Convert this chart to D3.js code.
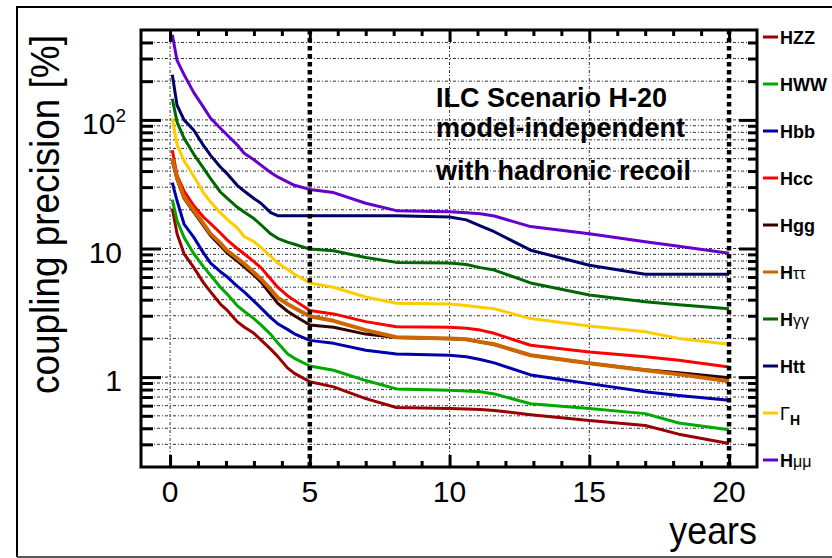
<!DOCTYPE html>
<html>
<head>
<meta charset="utf-8">
<script src="https://cdn.jsdelivr.net/npm/d3@7"></script>
<style>
  body { margin: 0; background: #fff; }
  svg { display: block; }
  text { font-family: "Liberation Sans", Arial, sans-serif; }
</style>
</head>
<body>
<div id="chart"></div>
<script>
// time in years where the precisions were read
const years = [0.08, 0.25, 0.5, 0.85, 1.2, 1.45, 1.8, 2.05, 2.4, 2.65, 3.0, 3.25, 3.6, 3.85, 4.2, 4.45,
  5.0, 5.85, 7.0, 8.1, 10.0, 10.6, 11.1, 11.6, 12.9, 15.0, 17.0, 18.2, 20.0];

// coupling precision in %
const hzz = [20.5, 13, 9.1, 7.1, 5.4, 4.6, 3.7, 3.3, 2.7, 2.45, 2.19, 1.95, 1.65, 1.45, 1.18, 1.07,
  0.92, 0.84, 0.68, 0.58, 0.57, 0.565, 0.56, 0.55, 0.51, 0.46, 0.42, 0.36, 0.305];
const hww = [24, 16.5, 12.2, 9.1, 7.2, 6.2, 5.0, 4.4, 3.6, 3.25, 2.85, 2.55, 2.15, 1.85, 1.52, 1.4,
  1.22, 1.13, 0.94, 0.81, 0.79, 0.78, 0.77, 0.74, 0.62, 0.57, 0.52, 0.44, 0.39];
const hbb = [32.5, 23.5, 15.5, 12.2, 9.2, 7.7, 6.6, 6.0, 5.1, 4.6, 3.9, 3.45, 2.9, 2.6, 2.35, 2.17,
  1.93, 1.83, 1.62, 1.51, 1.48, 1.44, 1.37, 1.29, 1.04, 0.89, 0.77, 0.72, 0.66];
const hcc = [58, 37, 28, 21.5, 17.5, 15.6, 13.2, 11.6, 10, 9.1, 7.9, 7.1, 5.8, 5.0, 4.3, 3.95,
  3.3, 3.1, 2.7, 2.46, 2.44, 2.4, 2.32, 2.19, 1.77, 1.57, 1.44, 1.35, 1.2];
const hgg = [48, 34.5, 24.5, 19.2, 15, 12.6, 10.5, 9.2, 8.0, 7.2, 6.2, 5.5, 4.4, 3.75, 3.25, 3.0,
  2.54, 2.44, 2.16, 2.03, 1.99, 1.96, 1.87, 1.79, 1.48, 1.28, 1.14, 1.08, 0.99];
const htautau = [50, 35.5, 25, 19.8, 15.5, 13, 11, 9.6, 8.4, 7.6, 6.5, 5.8, 4.8, 4.15, 3.7, 3.45,
  2.97, 2.74, 2.32, 2.04, 2.0, 1.97, 1.88, 1.8, 1.48, 1.28, 1.13, 1.05, 0.93];
const hgamgam = [146, 96, 72, 54, 42, 35, 27.5, 24.5, 21, 19.2, 17.1, 15.3, 13, 12, 11.2, 10.8,
  9.9, 9.6, 8.5, 7.8, 7.7, 7.5, 7.1, 6.8, 5.4, 4.35, 3.85, 3.65, 3.4];
const htt = [224, 130, 100, 83, 63, 53, 43, 38, 31, 28, 24.5, 22.5, 19, 18, 18, 18,
  18, 18, 18, 18, 17.6, 16.7, 15, 13.5, 9.7, 7.4, 6.3, 6.3, 6.3];
const gammaH = [103, 64, 48, 36.5, 27, 23, 19, 16.8, 14.5, 12.4, 11.3, 10.2, 8.7, 7.7, 6.9, 6.3,
  5.4, 5.0, 4.2, 3.75, 3.7, 3.6, 3.5, 3.4, 2.85, 2.5, 2.25, 2.0, 1.8];
const hmumu = [460, 290, 225, 163, 125, 103, 86, 76, 64, 55, 49, 44.5, 39, 36, 33, 31,
  28.8, 27.2, 22.5, 19.7, 19.3, 19.0, 18.6, 17.9, 14.8, 13.0, 11.3, 10.4, 9.2];

const xMajor = [0, 5, 10, 15, 20];
const yMajor = [1, 10, 100];
const yLabels = ["1", "10", "10"];

const series = [
  {name: "HZZ", color: "#990000", values: hzz},
  {name: "HWW", color: "#00a800", values: hww},
  {name: "Hbb", color: "#0000aa", values: hbb},
  {name: "Hcc", color: "#ff0000", values: hcc},
  {name: "Hgg", color: "#330000", values: hgg},
  {name: "Hττ", color: "#cc6600", values: htautau},
  {name: "Hγγ", color: "#006600", values: hgamgam},
  {name: "Htt", color: "#000066", values: htt},
  {name: "ΓH", color: "#ffcc00", values: gammaH},
  {name: "Hμμ", color: "#6600cc", values: hmumu}
];

const W = 832, H = 558;
const pLeft = 141, pRight = 757, pTop = 30, pBottom = 467;

const svg = d3.select("#chart").append("svg")
  .attr("width", W).attr("height", H);

// outer canvas frame
svg.append("path")
  .attr("d", `M${W + 5},7 H17 V557`)
  .attr("fill", "none").attr("stroke", "#000").attr("stroke-width", 2);
svg.append("line")
  .attr("x1", 17).attr("x2", W + 5).attr("y1", 557).attr("y2", 557)
  .attr("stroke", "#555").attr("stroke-width", 2);

const x = d3.scaleLinear().domain([-1.04, 21.0]).range([pLeft, pRight]);
const y = d3.scaleLog().domain([0.2, 500]).range([pBottom, pTop]);

// all minor/major values on the log axis
let yAll = [];
for (let dec of [0.1, 1, 10, 100]) {
  for (let k = 1; k <= 9; k++) {
    const v = +(k * dec).toPrecision(3);
    if (v >= 0.3 && v <= 400) yAll.push(v);
  }
}
const yMinor = yAll.filter(v => !yMajor.includes(v));
const xMinor = d3.range(0, 21).filter(v => !xMajor.includes(v));

// grid
const grid = svg.append("g").attr("class", "grid");
grid.selectAll("line.h").data(yAll).join("line")
  .attr("x1", pLeft).attr("x2", pRight)
  .attr("y1", d => y(d)).attr("y2", d => y(d))
  .attr("stroke", "#333").attr("stroke-width", 1).attr("stroke-dasharray", "3,2,1,2");
grid.selectAll("line.v").data([0, 10, 15]).join("line")
  .attr("x1", d => x(d)).attr("x2", d => x(d))
  .attr("y1", pTop).attr("y2", pBottom)
  .attr("stroke", "#333").attr("stroke-width", 1).attr("stroke-dasharray", "3,2,1,2");

// the curves
const line = d3.line()
  .x((d, i) => x(years[i]))
  .y(d => y(d));

svg.append("g").selectAll("path")
  .data(series)
  .join("path")
  .attr("d", d => line(d.values))
  .attr("fill", "none")
  .attr("stroke", d => d.color)
  .attr("stroke-width", d => d.name == "Hττ" ? 4 : 3)
  .attr("stroke-linejoin", "round");

// thick dashed markers at 5 and 20 years
svg.append("g").selectAll("line")
  .data([5, 20])
  .join("line")
  .attr("x1", d => x(d)).attr("x2", d => x(d))
  .attr("y1", pTop).attr("y2", pBottom)
  .attr("stroke", "#000").attr("stroke-width", 4.5)
  .attr("stroke-dasharray", "4.5,3.5");

// axis ticks (pointing inward)
function ticks(axis, vals, size, tr) {
  svg.append("g")
    .attr("transform", tr)
    .call(axis.tickValues(vals).tickSize(size).tickFormat(""))
    .call(g => g.select(".domain").remove())
    .call(g => g.selectAll("line").attr("stroke-width", 3));
}
ticks(d3.axisBottom(x), xMajor, -12, `translate(0,${pBottom})`);
ticks(d3.axisBottom(x), xMinor, -6, `translate(0,${pBottom})`);
ticks(d3.axisTop(x), xMajor, -12, `translate(0,${pTop})`);
ticks(d3.axisTop(x), xMinor, -6, `translate(0,${pTop})`);
ticks(d3.axisLeft(y), yMajor, -20, `translate(${pLeft},0)`);
ticks(d3.axisLeft(y), yMinor, -12, `translate(${pLeft},0)`);
ticks(d3.axisRight(y), yMajor, -18, `translate(${pRight},0)`);
ticks(d3.axisRight(y), yMinor, -9, `translate(${pRight},0)`);

// plot frame
svg.append("rect")
  .attr("x", pLeft).attr("y", pTop)
  .attr("width", pRight - pLeft).attr("height", pBottom - pTop)
  .attr("fill", "none").attr("stroke", "#000").attr("stroke-width", 3);

// tick labels
svg.append("g").selectAll("text")
  .data(xMajor)
  .join("text")
  .attr("x", d => x(d)).attr("y", 502)
  .attr("text-anchor", "middle")
  .attr("font-size", 30)
  .text(d => d);

const yl = svg.append("g").selectAll("text")
  .data(yMajor)
  .join("text")
  .attr("x", d => d == 100 ? 126 : 122).attr("y", d => y(d) + 14)
  .attr("text-anchor", "end")
  .attr("font-size", 30)
  .text((d, i) => yLabels[i]);
yl.filter(d => d == 100).append("tspan")
  .attr("font-size", 19).attr("dy", -12).text("2");

// axis titles (the original font is a bit condensed)
svg.append("text")
  .attr("transform", "translate(59,394) rotate(-90) scale(0.9,1)")
  .attr("font-size", 41)
  .text("coupling precision [%]");
svg.append("text")
  .attr("transform", "translate(757,544) scale(0.92,1)")
  .attr("text-anchor", "end")
  .attr("font-size", 39)
  .text("years");

// annotation
const note = ["ILC Scenario H-20", "model-independent", "with hadronic recoil"];
const noteY = [107, 137, 180];
svg.append("g").selectAll("text")
  .data(note)
  .join("text")
  .attr("x", 436).attr("y", (d, i) => noteY[i])
  .attr("font-size", 27).attr("font-weight", "bold")
  .text(d => d);

// legend
const leg = svg.append("g").selectAll("g")
  .data(series)
  .join("g")
  .attr("transform", (d, i) => `translate(763,${37 + i * 47})`);
leg.append("line")
  .attr("x1", 0).attr("x2", 15)
  .attr("stroke", d => d.color).attr("stroke-width", 3);
const lt = leg.append("text")
  .attr("x", 17).attr("y", 6.5)
  .attr("font-size", 18);
lt.each(function(d) {
  const t = d3.select(this);
  if (d.name == "ΓH") {
    t.append("tspan").text("Γ");
    t.append("tspan").attr("font-weight", "bold").attr("font-size", 14).attr("dy", 5).text("H");
  } else if (/[τγμ]/.test(d.name)) {
    t.append("tspan").attr("font-weight", "bold").text("H");
    t.append("tspan").attr("font-size", 16).text(d.name.slice(1));
  } else {
    t.append("tspan").attr("font-weight", "bold").text(d.name);
  }
});
</script>
</body>
</html>
